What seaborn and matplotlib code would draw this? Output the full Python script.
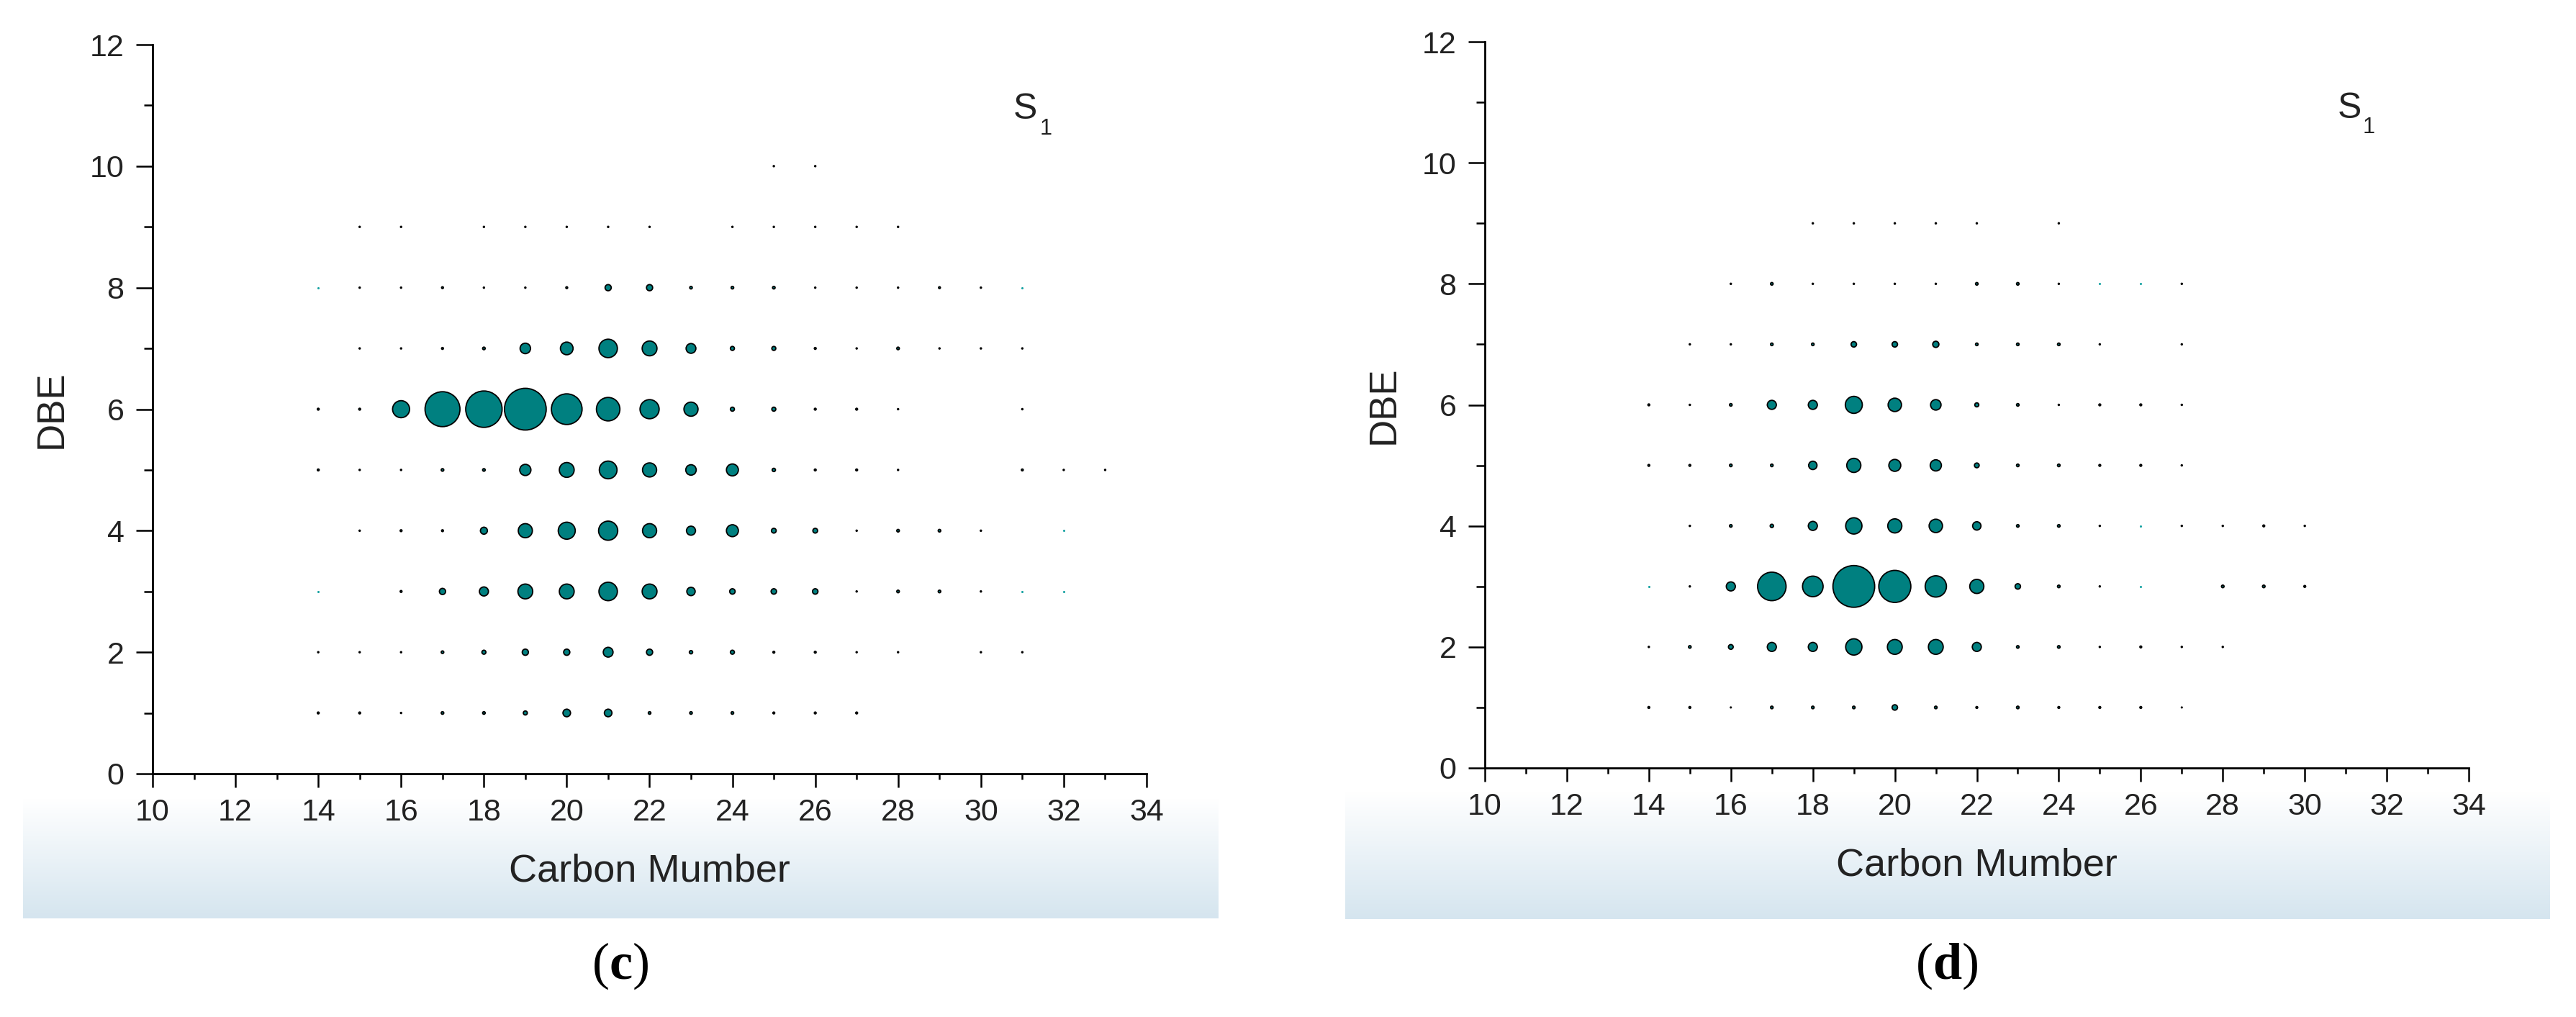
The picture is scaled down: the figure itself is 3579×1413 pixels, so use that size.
import numpy as np
import pandas as pd
import matplotlib
matplotlib.use("Agg")
import matplotlib.pyplot as plt
import seaborn as sns
from matplotlib.ticker import MultipleLocator

# ---------------- data (relative abundance, largest bubble = 100) ----------------
# Panel (c): carbon numbers and abundances per DBE row
c_carbon = {
    10: [25, 26],
    9: [15, 16, 18, 19, 20, 21, 22, 24, 25, 26, 27, 28],
    8: [15, 16, 17, 18, 19, 20, 21, 22, 23, 24, 25, 26, 27, 28, 29, 30],
    7: [15, 16, 17, 18, 19, 20, 21, 22, 23, 24, 25, 26, 27, 28, 29, 30, 31],
    6: [14, 15, 16, 17, 18, 19, 20, 21, 22, 23, 24, 25, 26, 27, 28, 31],
    5: [14, 15, 16, 17, 18, 19, 20, 21, 22, 23, 24, 25, 26, 27, 28, 31, 32, 33],
    4: [15, 16, 17, 18, 19, 20, 21, 22, 23, 24, 25, 26, 27, 28, 29, 30],
    3: [16, 17, 18, 19, 20, 21, 22, 23, 24, 25, 26, 27, 28, 29, 30],
    2: [14, 15, 16, 17, 18, 19, 20, 21, 22, 23, 24, 25, 26, 27, 28, 30, 31],
    1: [14, 15, 16, 17, 18, 19, 20, 21, 22, 23, 24, 25, 26, 27],
}
c_abund = {
    10: [0.08, 0.08],
    9: [0.08] * 12,
    8: [0.08, 0.08, 0.2, 0.08, 0.08, 0.2, 2.2, 2.2, 0.39, 0.39, 0.39, 0.08, 0.08, 0.08, 0.2, 0.08],
    7: [0.08, 0.08, 0.2, 0.39, 6.3, 9.2, 19.5, 12.6, 5.5, 0.93, 0.93, 0.2, 0.08, 0.39, 0.08, 0.08, 0.08],
    6: [0.2, 0.2, 16.6, 70.0, 76.0, 100.0, 54.0, 31.6, 21.0, 11.4, 0.93, 0.93, 0.2, 0.2, 0.08, 0.08],
    5: [0.2, 0.08, 0.08, 0.39, 0.39, 7.2, 12.6, 18.0, 11.4, 6.3, 8.2, 0.63, 0.2, 0.2, 0.08, 0.2, 0.08, 0.08],
    4: [0.08, 0.2, 0.2, 2.8, 11.4, 16.6, 21.0, 11.4, 4.7, 8.2, 1.3, 1.3, 0.08, 0.39, 0.39, 0.08],
    3: [0.2, 2.2, 4.7, 12.6, 12.6, 19.5, 12.6, 4.0, 1.7, 1.7, 1.7, 0.08, 0.39, 0.39, 0.08],
    2: [0.08, 0.08, 0.08, 0.39, 0.93, 2.2, 2.2, 5.5, 2.2, 0.63, 0.93, 0.2, 0.2, 0.08, 0.08, 0.08, 0.08],
    1: [0.2, 0.2, 0.08, 0.39, 0.39, 0.93, 3.3, 3.3, 0.39, 0.39, 0.39, 0.2, 0.2, 0.2],
}
c_trace_carbon = [14, 31, 32, 14, 31, 32]
c_trace_dbe = [8, 8, 4, 3, 3, 3]

# Panel (d)
d_carbon = {
    9: [18, 19, 20, 21, 22, 24],
    8: [16, 17, 18, 19, 20, 21, 22, 23, 24, 27],
    7: [15, 16, 17, 18, 19, 20, 21, 22, 23, 24, 25, 27],
    6: [14, 15, 16, 17, 18, 19, 20, 21, 22, 23, 24, 25, 26, 27],
    5: [14, 15, 16, 17, 18, 19, 20, 21, 22, 23, 24, 25, 26, 27],
    4: [15, 16, 17, 18, 19, 20, 21, 22, 23, 24, 25, 27, 28, 29, 30],
    3: [15, 16, 17, 18, 19, 20, 21, 22, 23, 24, 25, 28, 29, 30],
    2: [14, 15, 16, 17, 18, 19, 20, 21, 22, 23, 24, 25, 26, 27, 28],
    1: [14, 15, 16, 17, 18, 19, 20, 21, 22, 23, 24, 25, 26, 27],
}
d_abund = {
    9: [0.08] * 6,
    8: [0.08, 0.39, 0.08, 0.08, 0.08, 0.08, 0.39, 0.39, 0.08, 0.08],
    7: [0.08, 0.08, 0.39, 0.39, 1.7, 1.7, 2.2, 0.39, 0.39, 0.39, 0.08, 0.08],
    6: [0.2, 0.08, 0.39, 4.7, 4.7, 16.6, 10.3, 6.3, 0.93, 0.39, 0.08, 0.2, 0.2, 0.08],
    5: [0.2, 0.2, 0.39, 0.39, 4.0, 11.4, 8.2, 7.2, 1.3, 0.39, 0.39, 0.2, 0.2, 0.08],
    4: [0.08, 0.39, 0.63, 4.7, 15.2, 11.4, 10.3, 4.0, 0.39, 0.39, 0.08, 0.08, 0.08, 0.2, 0.08],
    3: [0.08, 4.7, 46.6, 24.3, 100.0, 59.0, 26.0, 11.4, 1.7, 0.39, 0.08, 0.39, 0.39, 0.2],
    2: [0.08, 0.39, 1.3, 4.7, 4.7, 15.2, 12.6, 12.6, 4.7, 0.39, 0.39, 0.08, 0.2, 0.08, 0.08],
    1: [0.2, 0.2, 0.05, 0.39, 0.39, 0.39, 1.7, 0.39, 0.2, 0.39, 0.2, 0.2, 0.2, 0.05],
}
d_trace_carbon = [25, 26, 26, 14, 26]
d_trace_dbe = [8, 8, 4, 3, 3]

x_ticks = [10, 12, 14, 16, 18, 20, 22, 24, 26, 28, 30, 32, 34]
y_ticks = [0, 2, 4, 6, 8, 10, 12]
panel_labels = ["c", "d"]
x_title = "Carbon Mumber"
y_title = "DBE"

# ---------------- style ----------------
sns.set_style("white")
plt.rcParams["font.family"] = ["Liberation Sans", "DejaVu Sans"]
plt.rcParams["mathtext.fontset"] = "custom"
plt.rcParams["mathtext.rm"] = "Liberation Serif"
plt.rcParams["mathtext.bf"] = "Liberation Serif:bold"

W, H, DPI = 3579, 1413, 100
fig = plt.figure(figsize=(W / DPI, H / DPI), dpi=DPI)
fig.patch.set_facecolor("white")
TXT = "#222222"
TEAL = "#008080"


def px_axes(x0, y0, x1, y1, z=1):
    return fig.add_axes([x0 / W, 1 - y1 / H, (x1 - x0) / W, (y1 - y0) / H], zorder=z)


def to_df(carbon, abund):
    rows = []
    for dbe in carbon:
        for cn, ab in zip(carbon[dbe], abund[dbe]):
            rows.append((cn, dbe, ab))
    return pd.DataFrame(rows, columns=["carbon", "dbe", "abund"])


def band(x0, y0, x1, y1):
    b = px_axes(x0, y0, x1, y1, z=0)
    top = np.array([1.0, 1.0, 1.0])
    bot = np.array([213, 229, 239]) / 255.0
    t = np.linspace(0, 1, 256)[:, None]
    grad = (top * (1 - t) + bot * t)[:, None, :]
    b.imshow(grad, aspect="auto", extent=[0, 1, 0, 1], interpolation="bilinear")
    b.set_axis_off()


SMAX = (58.0 * 72 / DPI) ** 2

panels = [
    dict(carbon=c_carbon, abund=c_abund, tc=c_trace_carbon, td=c_trace_dbe,
         ax=(212, 62, 1593, 1075), band=(32, 1110, 1693, 1276), lab_x=862,
         s_pos=(1408, 165), sub_pos=(1445, 187)),
    dict(carbon=d_carbon, abund=d_abund, tc=d_trace_carbon, td=d_trace_dbe,
         ax=(2063, 58, 3430, 1067), band=(1869, 1100, 3542, 1277), lab_x=2705,
         s_pos=(3248, 164), sub_pos=(3283, 185)),
]

for p, lab in zip(panels, panel_labels):
    band(*p["band"])
    ax = px_axes(*p["ax"], z=2)
    ax.set_facecolor("none")
    df = to_df(p["carbon"], p["abund"])
    sns.scatterplot(data=df, x="carbon", y="dbe", size="abund",
                    sizes=(0, SMAX), size_norm=(0, 100), color=TEAL,
                    edgecolor="black", linewidth=1.3, legend=False, ax=ax, zorder=3)
    tr = pd.DataFrame({"carbon": p["tc"], "dbe": p["td"]})
    sns.scatterplot(data=tr, x="carbon", y="dbe", s=5, color="#19a3a3",
                    linewidth=0, legend=False, ax=ax, zorder=3)
    ax.set_xlim(10, 34)
    ax.set_ylim(0, 12)
    ax.set_xticks(x_ticks)
    ax.set_yticks(y_ticks)
    ax.xaxis.set_minor_locator(MultipleLocator(1))
    ax.yaxis.set_minor_locator(MultipleLocator(1))
    for s in ["top", "right"]:
        ax.spines[s].set_visible(False)
    for s in ["left", "bottom"]:
        ax.spines[s].set_linewidth(2.0)
        ax.spines[s].set_color("black")
    ax.tick_params(axis="both", which="both", direction="out", color="black",
                   width=1.8, labelsize=31, labelcolor=TXT,
                   bottom=True, left=True)
    ax.tick_params(axis="x", which="major", length=13.5, pad=11)
    ax.tick_params(axis="x", which="minor", length=6)
    ax.tick_params(axis="y", which="major", length=16.5, pad=12)
    ax.tick_params(axis="y", which="minor", length=8.5)
    ax.set_xlabel(x_title, fontsize=39, color=TXT, labelpad=26)
    ax.set_ylabel(y_title, fontsize=38, color=TXT, labelpad=20)
    ax.grid(False)

    sx, sy = p["s_pos"]
    fig.text(sx / W, 1 - sy / H, "S", fontsize=36, color=TXT, ha="left", va="baseline")
    ux, uy = p["sub_pos"]
    fig.text(ux / W, 1 - uy / H, "1", fontsize=22, color=TXT, ha="left", va="baseline")

    fig.text(p["lab_x"] / W, 1 - 1342 / H, r"($\mathbf{%s}$)" % lab, fontsize=52,
             family="Liberation Serif", color="black", ha="center", va="center")

fig.savefig("out.png", dpi=DPI, facecolor="white")
